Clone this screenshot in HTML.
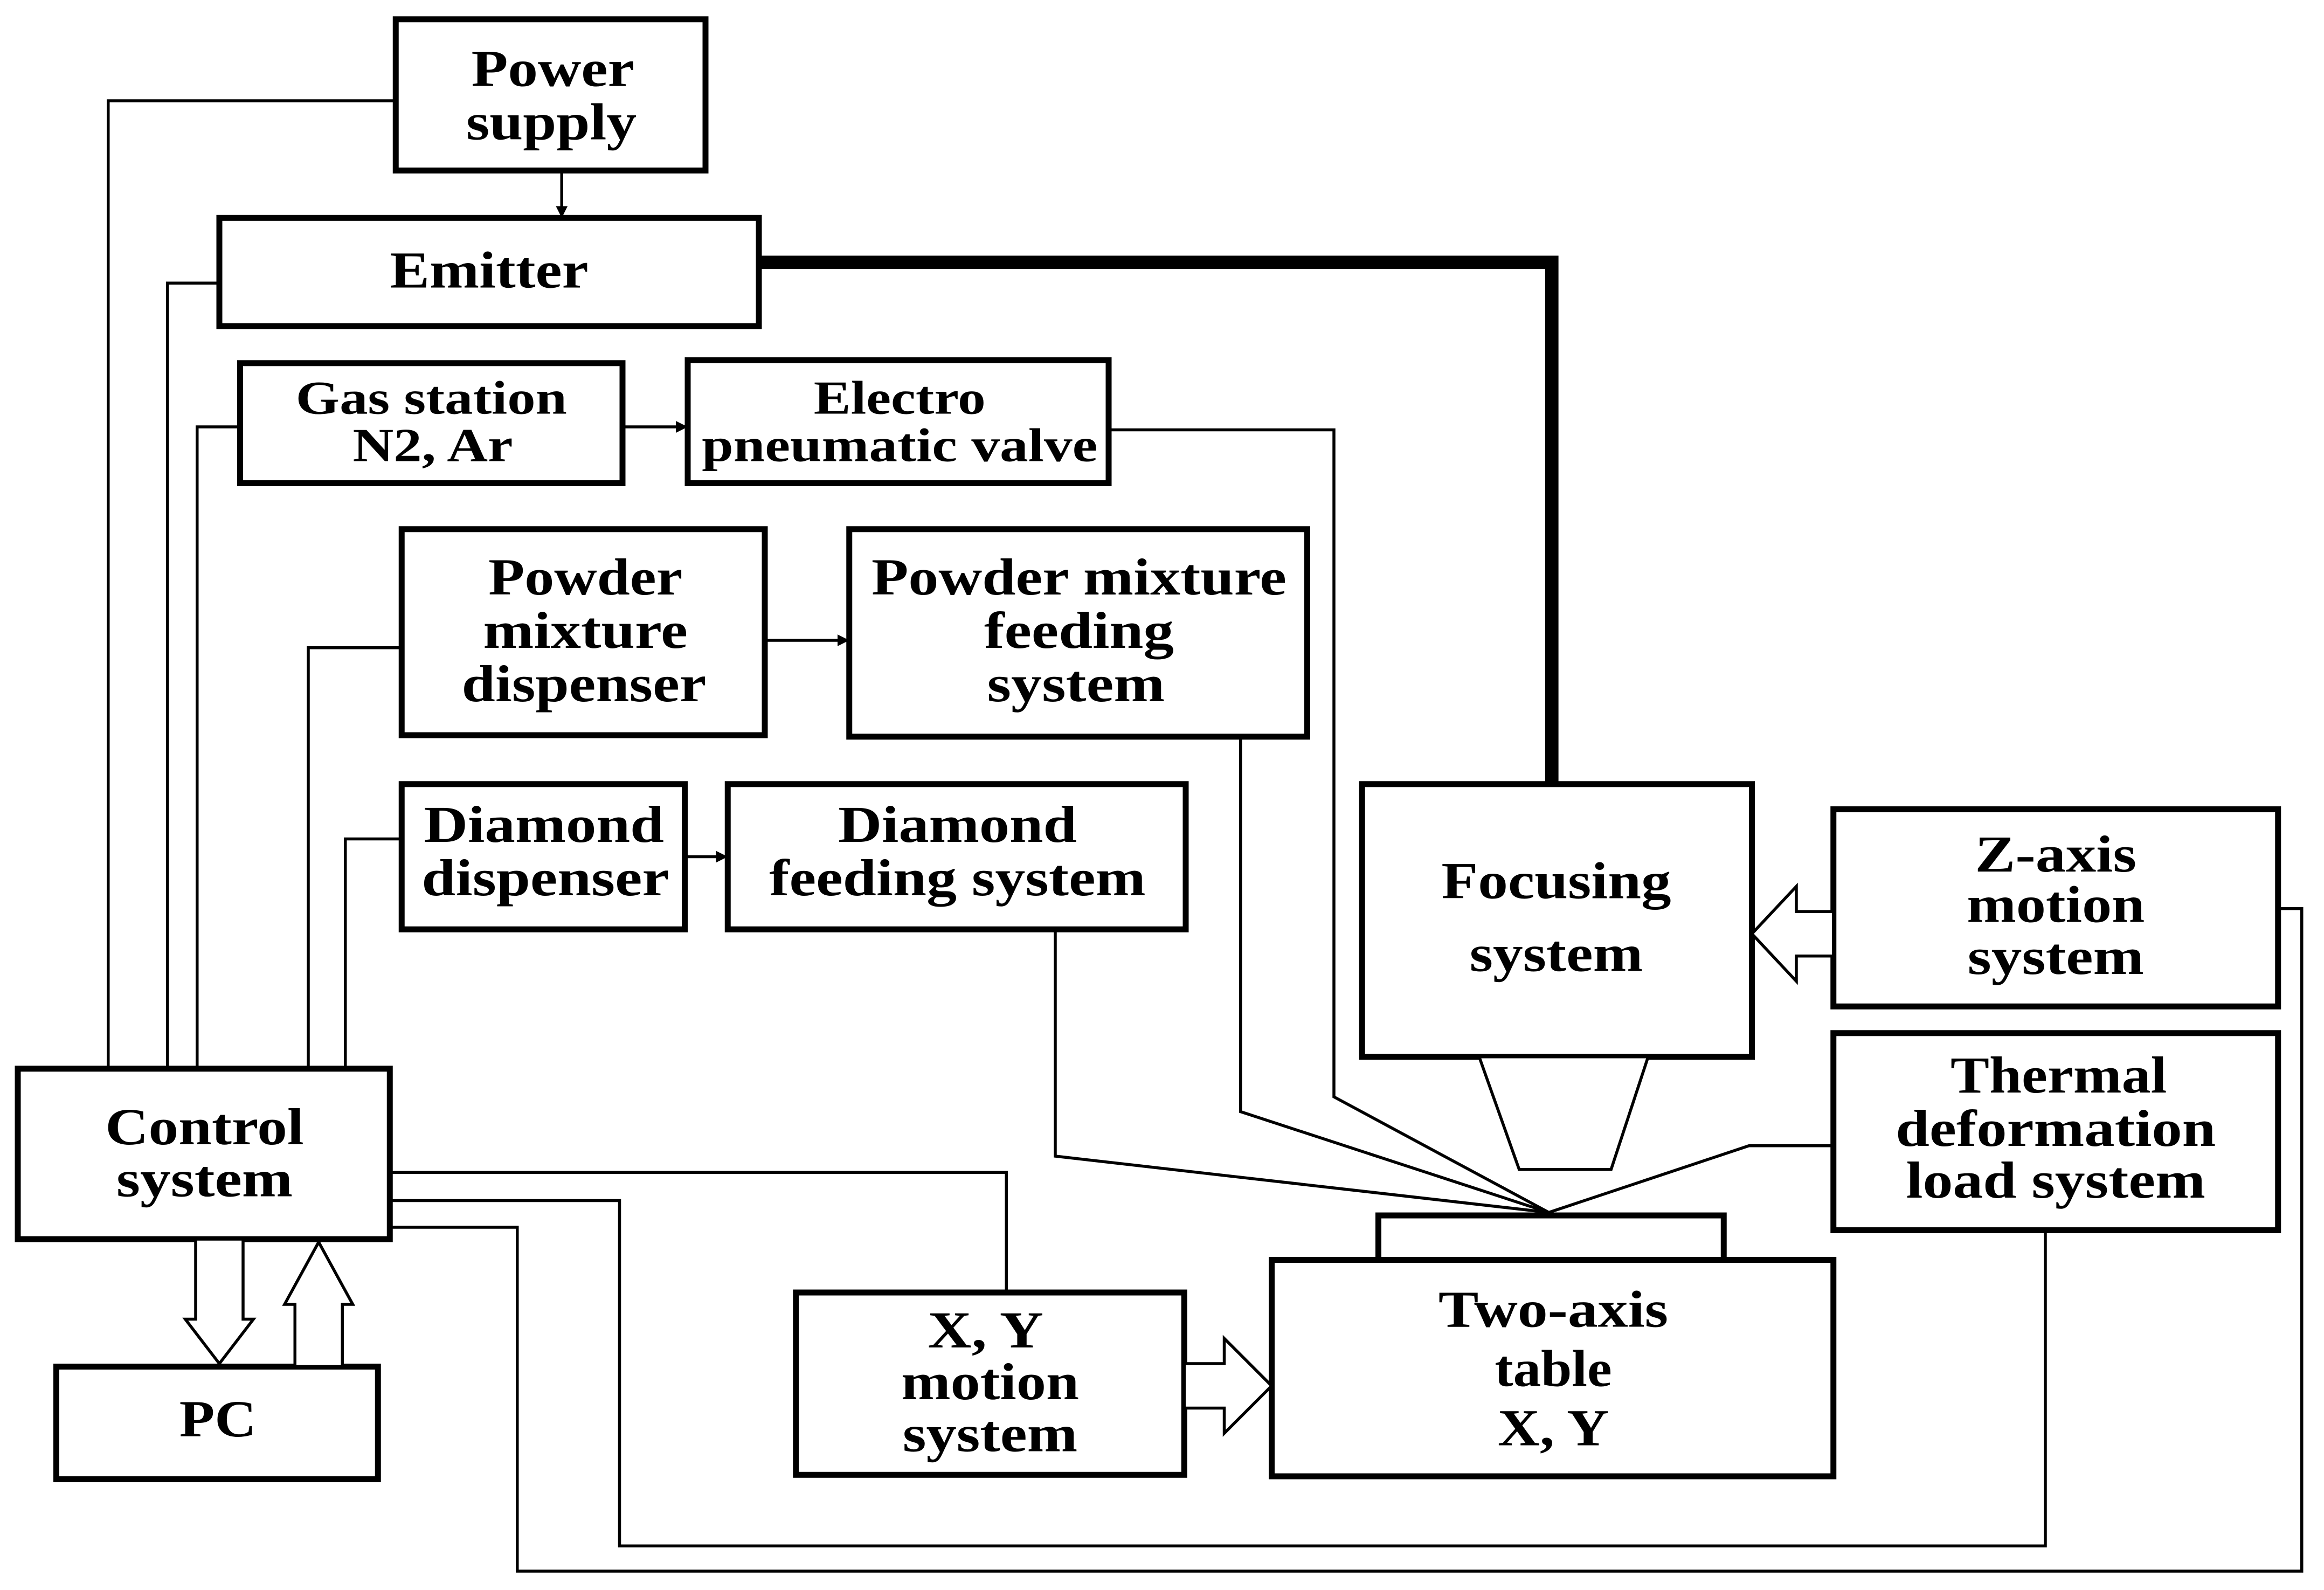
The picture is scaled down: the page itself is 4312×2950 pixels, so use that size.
<!DOCTYPE html>
<html><head><meta charset="utf-8"><style>html,body{margin:0;padding:0;background:#fff}svg{display:block}</style></head>
<body>
<svg width="4312" height="2950" viewBox="0 0 1568 1072.7" xmlns="http://www.w3.org/2000/svg">
<defs><marker id="a" markerWidth="8" markerHeight="8" refX="7" refY="4" orient="auto" markerUnits="userSpaceOnUse"><path d="M0,0 L8,4 L0,8 z" fill="#000"/></marker></defs>
<rect width="1568" height="1073" fill="#fff"/>
<g fill="none" stroke="#000" stroke-width="2">
<polyline points="267,68 73,68 73,721"/>
<polyline points="148,191 113,191 113,721"/>
<polyline points="162,288 133,288 133,721"/>
<polyline points="271,437 208,437 208,721"/>
<polyline points="271,566 233,566 233,721"/>
<line x1="379" y1="115" x2="379" y2="146" marker-end="url(#a)"/>
<line x1="420" y1="288" x2="463" y2="288" marker-end="url(#a)"/>
<line x1="516" y1="432" x2="572" y2="432" marker-end="url(#a)"/>
<line x1="462" y1="578" x2="490" y2="578" marker-end="url(#a)"/>
<polyline points="748,290 900,290 900,740 1045,818"/>
<polyline points="837,497 837,750 1045,818"/>
<polyline points="712,627 712,780 1045,818"/>
<polyline points="1237,773 1180,773 1045,818"/>
<polyline points="263,791 679,791 679,872"/>
<polyline points="263,810 418,810 418,1043 1380,1043 1380,830"/>
<polyline points="263,828 349,828 349,1060 1553,1060 1553,613 1537,613"/>
</g>
<polyline points="512,177 1047,177 1047,529" fill="none" stroke="#000" stroke-width="9"/>
<g fill="#fff" stroke="#000" stroke-width="4">
<rect x="267" y="13" width="209" height="102"/>
<rect x="148" y="147" width="364" height="73"/>
<rect x="162" y="245" width="258" height="81"/>
<rect x="464" y="243" width="284" height="83"/>
<rect x="271" y="357" width="245" height="139"/>
<rect x="573" y="357" width="309" height="140"/>
<rect x="271" y="529" width="191" height="98"/>
<rect x="491" y="529" width="309" height="98"/>
<rect x="919" y="529" width="263" height="184"/>
<rect x="1237" y="546" width="300" height="133"/>
<rect x="1237" y="697" width="300" height="133"/>
<rect x="12" y="721" width="251" height="115"/>
<rect x="38" y="922" width="217" height="76"/>
<rect x="537" y="872" width="262" height="123"/>
<rect x="930" y="820" width="233" height="30"/>
<rect x="858" y="850" width="379" height="146"/>
</g>
<g fill="#fff" stroke="#000" stroke-width="2">
<polygon points="998,713 1112,713 1087,789 1025,789"/>
<polygon points="132,836 164,836 164,890 171,890 148,920 125,890 132,890"/>
<polygon points="199,922 231,922 231,880 238,880 215,838 192,880 199,880"/>
<polygon points="799,920 826,920 826,903 858,935 826,967 826,950 799,950"/>
<polygon points="1237,615 1212,615 1212,598 1182,630 1212,662 1212,645 1237,645"/>
</g>
<g font-family="'Liberation Serif',serif" font-weight="bold" font-size="35" text-anchor="middle" fill="#000" lengthAdjust="spacingAndGlyphs">
<text x="373" y="58" textLength="110" lengthAdjust="spacingAndGlyphs">Power</text><text x="372" y="94" textLength="115" lengthAdjust="spacingAndGlyphs">supply</text>
<text x="330" y="194" textLength="134" lengthAdjust="spacingAndGlyphs">Emitter</text>
<g font-size="32"><text x="291" y="279" textLength="183" lengthAdjust="spacingAndGlyphs">Gas station</text><text x="292" y="311" textLength="108" lengthAdjust="spacingAndGlyphs">N2, Ar</text>
<text x="607" y="279" textLength="116" lengthAdjust="spacingAndGlyphs">Electro</text><text x="607" y="311" textLength="267" lengthAdjust="spacingAndGlyphs">pneumatic valve</text></g>
<text x="395" y="401" textLength="131" lengthAdjust="spacingAndGlyphs">Powder</text><text x="395" y="437" textLength="138" lengthAdjust="spacingAndGlyphs">mixture</text><text x="394" y="473" textLength="165" lengthAdjust="spacingAndGlyphs">dispenser</text>
<text x="728" y="401" textLength="280" lengthAdjust="spacingAndGlyphs">Powder mixture</text><text x="728" y="437" textLength="128" lengthAdjust="spacingAndGlyphs">feeding</text><text x="726" y="473" textLength="120" lengthAdjust="spacingAndGlyphs">system</text>
<text x="367" y="568" textLength="162" lengthAdjust="spacingAndGlyphs">Diamond</text><text x="368" y="604" textLength="167" lengthAdjust="spacingAndGlyphs">dispenser</text>
<text x="646" y="568" textLength="161" lengthAdjust="spacingAndGlyphs">Diamond</text><text x="646" y="604" textLength="254" lengthAdjust="spacingAndGlyphs">feeding system</text>
<text x="1050" y="606" textLength="155" lengthAdjust="spacingAndGlyphs">Focusing</text><text x="1050" y="655" textLength="117" lengthAdjust="spacingAndGlyphs">system</text>
<text x="1387" y="588" textLength="109" lengthAdjust="spacingAndGlyphs">Z-axis</text><text x="1387" y="622" textLength="120" lengthAdjust="spacingAndGlyphs">motion</text><text x="1387" y="657" textLength="119" lengthAdjust="spacingAndGlyphs">system</text>
<text x="1389" y="737" textLength="146" lengthAdjust="spacingAndGlyphs">Thermal</text><text x="1387" y="773" textLength="216" lengthAdjust="spacingAndGlyphs">deformation</text><text x="1387" y="808" textLength="202" lengthAdjust="spacingAndGlyphs">load system</text>
<text x="138" y="772" textLength="134" lengthAdjust="spacingAndGlyphs">Control</text><text x="138" y="807" textLength="119" lengthAdjust="spacingAndGlyphs">system</text>
<text x="147" y="969" textLength="52" lengthAdjust="spacingAndGlyphs">PC</text>
<text x="665" y="909" textLength="78" lengthAdjust="spacingAndGlyphs">X, Y</text><text x="668" y="944" textLength="120" lengthAdjust="spacingAndGlyphs">motion</text><text x="668" y="979" textLength="118" lengthAdjust="spacingAndGlyphs">system</text>
<text x="1048" y="895" textLength="155" lengthAdjust="spacingAndGlyphs">Two-axis</text><text x="1048" y="935" textLength="79" lengthAdjust="spacingAndGlyphs">table</text><text x="1048" y="975" textLength="75" lengthAdjust="spacingAndGlyphs">X, Y</text>
</g>
</svg>
</body></html>
